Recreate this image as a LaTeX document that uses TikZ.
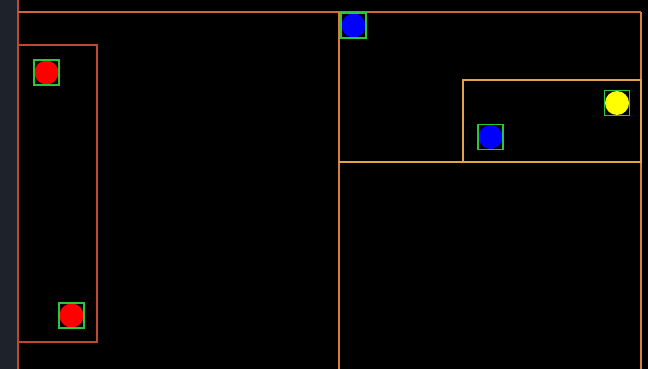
\documentclass[tikz,border=0pt]{standalone}
\usepackage{xcolor}
\definecolor{gutter}{RGB}{30, 35, 43}
\definecolor{levelA}{RGB}{192, 72, 48}
\definecolor{levelB}{RGB}{204, 104, 60}
\definecolor{levelC}{RGB}{214, 128, 58}
\definecolor{levelD}{RGB}{226, 164, 72}
\definecolor{boxgreen}{RGB}{40, 200, 60}
\definecolor{ptred}{RGB}{255, 0, 0}
\definecolor{ptblue}{RGB}{0, 0, 255}
\definecolor{ptyellow}{RGB}{255, 255, 0}
\usetikzlibrary{positioning}

\begin{document}
\begin{tikzpicture}[
  x=1pt, y=-1pt,
  cell/.style={line width=1.4pt},
  dot/.style={circle, minimum size=24pt, inner sep=0pt},
  hitbox/.style={draw=boxgreen, line width=1.3pt, minimum size=25pt, inner sep=0pt}
]
% canvas
\useasboundingbox (0,0) rectangle (648,369);
\fill[black] (0,0) rectangle (648,369);
\fill[gutter] (0,0) rectangle (17,369);

% quadtree cells
\draw[cell, levelA] (18,0) -- (18,369);
\draw[cell, levelB] (18,12) -- (641,12);
\draw[cell, levelC] (641,12) -- (641,369);
\draw[cell, levelA] (18,45) rectangle (97,342);
\draw[cell, levelC] (339,12) -- (339,369);
\draw[cell, levelD] (339,162) -- (641,162);
\draw[cell, levelD] (463,80) rectangle (641,162);

% points with their boxes
\node[dot, fill=ptred] (redA) at (46.5,72.5) {};
\node[hitbox] (boxA) at (redA) {};
\node[dot, fill=ptred] (redB) at (71.5,315.5) {};
\node[hitbox] (boxB) at (redB) {};
\node[dot, fill=ptblue] (blueA) at (353.5,25.5) {};
\node[hitbox] (boxC) at (blueA) {};
\node[dot, fill=ptblue] (blueB) at (490.5,137) {};
\node[hitbox] (boxD) at (blueB) {};
\node[dot, fill=ptyellow] (yellowA) at (617,103) {};
\node[hitbox] (boxE) at (yellowA) {};
\end{tikzpicture}
\end{document}
